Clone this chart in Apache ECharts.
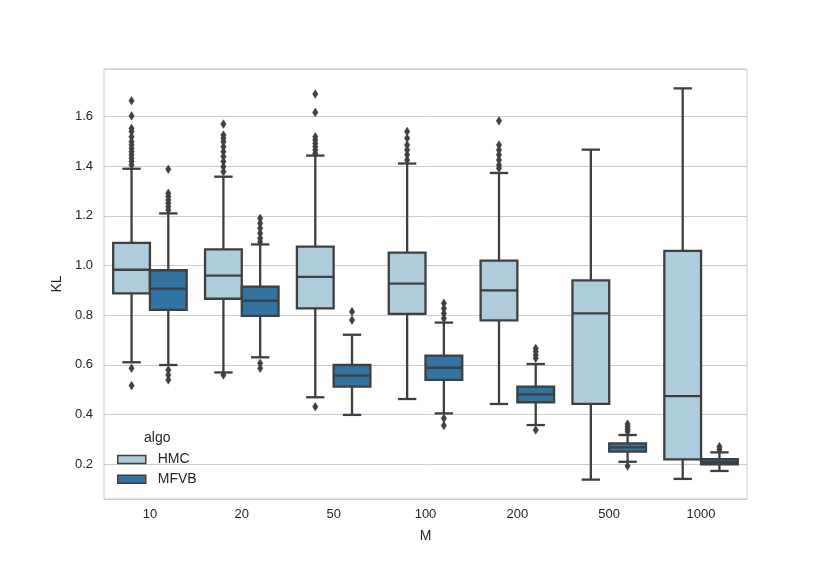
<!DOCTYPE html>
<html>
<head>
<meta charset="utf-8">
<script src="https://cdn.jsdelivr.net/npm/echarts@6/dist/echarts.min.js"></script>
<style>html,body{margin:0;padding:0;background:#fff}#c{width:830px;height:571px}</style>
</head>
<body>
<div id="c"></div>
<script>
// ---- data ----
const categories = ['10', '20', '50', '100', '200', '500', '1000'];
const hueNames = ['HMC', 'MFVB'];
// [lowWhisker, q1, median, q3, highWhisker]
const hmcStats = [
  [0.610, 0.888, 0.983, 1.091, 1.390],
  [0.569, 0.866, 0.959, 1.065, 1.358],
  [0.469, 0.827, 0.954, 1.076, 1.443],
  [0.462, 0.805, 0.927, 1.052, 1.411],
  [0.442, 0.779, 0.900, 1.020, 1.373],
  [0.137, 0.442, 0.807, 0.940, 1.467],
  [0.140, 0.219, 0.474, 1.059, 1.714]
];
const mfvbStats = [
  [0.599, 0.821, 0.907, 0.981, 1.210],
  [0.630, 0.797, 0.858, 0.915, 1.085],
  [0.398, 0.512, 0.556, 0.599, 0.721],
  [0.404, 0.539, 0.588, 0.637, 0.770],
  [0.357, 0.449, 0.481, 0.512, 0.603],
  [0.209, 0.250, 0.267, 0.283, 0.317],
  [0.172, 0.199, 0.209, 0.220, 0.247]
];
const hmcOutliers = [
  [1.664, 1.603, 1.553, 1.540, 1.519, 1.499, 1.486, 1.472, 1.459, 1.446, 1.432, 1.419, 1.405, 0.586, 0.516],
  [1.570, 1.526, 1.513, 1.499, 1.479, 1.459, 1.439, 1.419, 1.398, 1.378, 0.559],
  [1.691, 1.617, 1.519, 1.506, 1.492, 1.479, 1.466, 1.452, 0.431],
  [1.540, 1.513, 1.486, 1.466, 1.446, 1.425],
  [1.583, 1.486, 1.466, 1.446, 1.425, 1.405, 1.392],
  [],
  []
];
const mfvbOutliers = [
  [1.388, 1.291, 1.278, 1.264, 1.251, 1.237, 1.224, 0.579, 0.559, 0.539],
  [1.190, 1.170, 1.150, 1.130, 1.110, 1.096, 0.606, 0.586],
  [0.814, 0.780],
  [0.848, 0.827, 0.807, 0.787, 0.384, 0.355],
  [0.666, 0.653, 0.639, 0.626, 0.337],
  [0.361, 0.350, 0.340, 0.330, 0.192],
  [0.270, 0.259]
];

// ---- style ----
const fills = ['#aeccdb', '#3274a1'];
const lineColor = '#3f3f3f';
const LW = 2.3;
const FONT = 'Liberation Sans, Arial, sans-serif';

function boxData(stats) {
  return stats.map((s, i) => [i].concat(s));
}
function outlierData(outs) {
  const d = [];
  outs.forEach((arr, i) => arr.forEach(v => d.push([i, v])));
  return d;
}

function boxRender(hue) {
  return function (params, api) {
    const idx = api.value(0);
    const band = api.size([1, 0])[0];
    const w = band * 0.4;
    const cx = api.coord([idx, 0])[0] + (hue - 0.5) * w;
    const y = k => api.coord([idx, api.value(k)])[1];
    const yLow = y(1), yQ1 = y(2), yMed = y(3), yQ3 = y(4), yHigh = y(5);
    const ls = { stroke: lineColor, lineWidth: LW };
    return {
      type: 'group',
      children: [
        { type: 'line', shape: { x1: cx, y1: yHigh, x2: cx, y2: yQ3 }, style: ls },
        { type: 'line', shape: { x1: cx, y1: yQ1, x2: cx, y2: yLow }, style: ls },
        { type: 'line', shape: { x1: cx - w / 4, y1: yHigh, x2: cx + w / 4, y2: yHigh }, style: ls },
        { type: 'line', shape: { x1: cx - w / 4, y1: yLow, x2: cx + w / 4, y2: yLow }, style: ls },
        { type: 'rect', shape: { x: cx - w / 2, y: yQ3, width: w, height: yQ1 - yQ3 },
          style: { fill: fills[hue], stroke: lineColor, lineWidth: LW } },
        { type: 'line', shape: { x1: cx - w / 2, y1: yMed, x2: cx + w / 2, y2: yMed }, style: ls }
      ]
    };
  };
}

function outlierRender(hue) {
  return function (params, api) {
    const idx = api.value(0);
    const band = api.size([1, 0])[0];
    const w = band * 0.4;
    const cx = api.coord([idx, 0])[0] + (hue - 0.5) * w;
    const cy = api.coord([idx, api.value(1)])[1];
    const hw = 2.7, hh = 4.3;
    return {
      type: 'polygon',
      shape: { points: [[cx, cy - hh], [cx + hw, cy], [cx, cy + hh], [cx - hw, cy]] },
      style: { fill: lineColor, stroke: lineColor, lineWidth: 0.5 }
    };
  };
}

const chart = echarts.init(document.getElementById('c'), null, { renderer: 'canvas' });
const option = {
  backgroundColor: '#ffffff',
  animation: false,
  textStyle: { fontFamily: FONT },
  title: {
    text: 'algo', left: 144, top: 431, padding: 0,
    textStyle: { fontSize: 14, fontWeight: 'normal', color: '#262626', fontFamily: FONT }
  },
  legend: {
    orient: 'vertical', left: 117, top: 452.5, padding: 0,
    itemWidth: 28, itemHeight: 8, itemGap: 5.8,
    icon: 'rect',
    textStyle: { fontSize: 14, color: '#262626', fontFamily: FONT, padding: [0, 0, 0, 7] },
    data: [
      { name: 'HMC', itemStyle: { color: fills[0], borderColor: lineColor, borderWidth: 1.5 } },
      { name: 'MFVB', itemStyle: { color: fills[1], borderColor: lineColor, borderWidth: 1.5 } }
    ]
  },
  grid: {
    left: 104, right: 83, top: 69, bottom: 72,
    show: true, borderColor: '#cccccc', borderWidth: 1, backgroundColor: '#ffffff'
  },
  xAxis: {
    type: 'category', data: categories, boundaryGap: true,
    name: 'M', nameLocation: 'middle', nameGap: 30,
    nameTextStyle: { fontSize: 14, color: '#262626', fontFamily: FONT },
    axisLine: { show: true, lineStyle: { color: '#cccccc' } },
    axisTick: { show: false },
    axisLabel: { fontSize: 13, color: '#262626', margin: 9, fontFamily: FONT },
    splitLine: { show: false }
  },
  yAxis: {
    type: 'value', min: 0.059, max: 1.792, splitNumber: 8,
    name: 'KL', nameLocation: 'middle', nameGap: 38,
    nameTextStyle: { fontSize: 14, color: '#262626', fontFamily: FONT },
    axisLine: { show: false },
    axisTick: { show: false },
    axisLabel: {
      fontSize: 13, color: '#262626', margin: 11, fontFamily: FONT,
      showMinLabel: false, showMaxLabel: false,
      formatter: v => (Math.abs(v * 5 - Math.round(v * 5)) < 1e-6 ? v.toFixed(1) : '')
    },
    splitLine: { show: true, lineStyle: { color: '#cccccc', width: 1 } }
  },
  series: [
    { name: 'HMC', type: 'custom', renderItem: boxRender(0), data: boxData(hmcStats),
      itemStyle: { color: fills[0] }, encode: { x: 0, y: [1, 2, 3, 4, 5] }, z: 2 },
    { name: 'MFVB', type: 'custom', renderItem: boxRender(1), data: boxData(mfvbStats),
      itemStyle: { color: fills[1] }, encode: { x: 0, y: [1, 2, 3, 4, 5] }, z: 2 },
    { name: 'HMC', type: 'custom', renderItem: outlierRender(0), data: outlierData(hmcOutliers),
      itemStyle: { color: fills[0] }, encode: { x: 0, y: 1 }, z: 3 },
    { name: 'MFVB', type: 'custom', renderItem: outlierRender(1), data: outlierData(mfvbOutliers),
      itemStyle: { color: fills[1] }, encode: { x: 0, y: 1 }, z: 3 }
  ]
};
chart.setOption(option);
</script>
</body>
</html>
